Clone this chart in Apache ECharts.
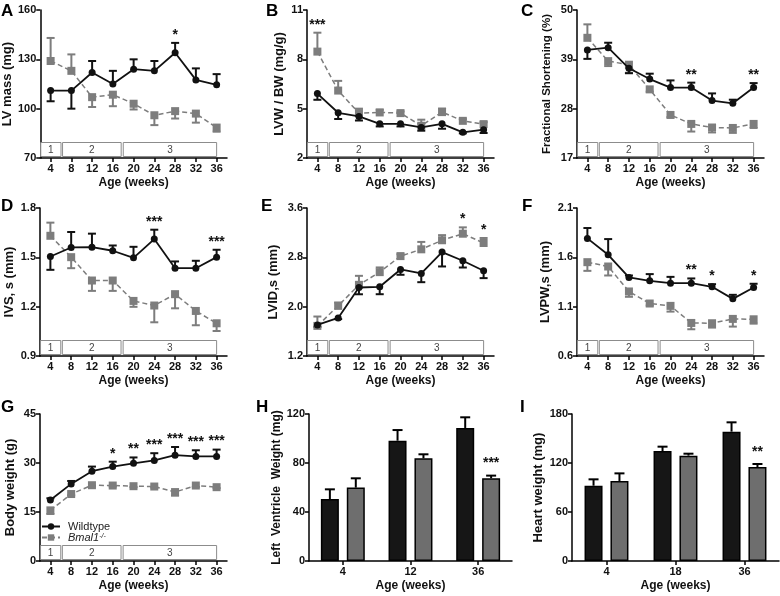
<!DOCTYPE html>
<html>
<head>
<meta charset="utf-8">
<script src="https://cdn.jsdelivr.net/npm/echarts@6/dist/echarts.min.js"></script>
<style>html,body{margin:0;padding:0;background:#fff}#c{width:780px;height:596px}</style>
</head>
<body>
<div id="c"></div>
<script>
// ---------- DATA ----------
const weeks = ['4','8','12','16','20','24','28','32','36'];
const phaseLabels = ['1','2','3'];
const phaseStart = [2.1, 6.3, 18.0];
const phaseEnd = [6.0, 17.6, 36.0];
const seriesNames = ['Wildtype', 'Bmal1-/-'];

// A: LV mass (mg)
const aWT = [111, 111, 122, 115, 124, 123, 134, 117.5, 114.5];
const aWTErr = [-6.5, -11, 7, 8, 6, 6, 6, 7, 6.5];
const aKO = [129, 123, 107, 108.5, 103, 96, 98.5, 97, 88.5];
const aKOErr = [14, 10, -6, -7, -3.5, -6, -4.5, -5.5, -2.5];
const aSig = ['', '', '', '', '', '', '*', '', ''];

// B: LVW / BW (mg/g)
const bWT = [5.92, 4.75, 4.53, 4.08, 4.08, 3.86, 4.08, 3.56, 3.72];
const bWTErr = [-0.38, -0.38, -0.25, -0.16, -0.16, -0.2, -0.3, -0.06, -0.2];
const bKO = [8.47, 6.1, 4.73, 4.77, 4.73, 3.96, 4.79, 4.26, 4.06];
const bKOErr = [1.15, 0.59, 0.27, 0.16, 0.1, 0.37, 0.22, 0.1, 0.12];
const bSig = ['***', '', '', '', '', '', '', '', ''];

// C: Fractional Shortening (%)
const cWT = [41.1, 41.6, 37.0, 34.6, 32.7, 32.7, 29.8, 29.2, 32.7];
const cWTErr = [-2.0, 1.1, -1.1, 1.2, 1.6, 1.1, 1.6, 0.8, 1.0];
const cKO = [43.8, 38.6, 37.8, 32.3, 26.6, 24.6, 23.8, 23.7, 24.6];
const cKOErr = [3.0, -1.1, -1.8, -0.5, -0.5, -1.7, -1.1, -1.1, -0.9];
const cSig = ['', '', '', '', '', '**', '', '', '**'];

// D: IVS, s (mm)
const dWT = [1.505, 1.56, 1.562, 1.54, 1.497, 1.611, 1.434, 1.434, 1.501];
const dWTErr = [-0.081, 0.094, 0.082, 0.032, 0.067, 0.057, 0.041, 0.045, 0.045];
const dKO = [1.631, 1.501, 1.359, 1.359, 1.235, 1.207, 1.276, 1.174, 1.099];
const dKOErr = [0.08, -0.067, -0.063, -0.063, -0.036, -0.102, -0.086, -0.087, -0.047];
const dSig = ['', '', '', '', '', '***', '', '', '***'];

// E: LVID,s (mm)
const eWT = [1.704, 1.818, 2.311, 2.322, 2.603, 2.538, 2.885, 2.744, 2.582];
const eWTErr = [-0.03, -0.02, -0.11, -0.12, -0.086, -0.141, -0.233, -0.109, -0.119];
const eKO = [1.688, 2.013, 2.354, 2.56, 2.82, 2.93, 3.077, 3.183, 3.032];
const eKOErr = [0.152, 0.054, 0.146, 0.076, 0.03, 0.12, 0.083, 0.103, 0.082];
const eSig = ['', '', '', '', '', '', '', '*', '*'];

// F: LVPW,s (mm)
const fWT = [1.792, 1.626, 1.396, 1.362, 1.338, 1.338, 1.301, 1.179, 1.294];
const fWTErr = [0.105, 0.159, 0.02, 0.068, 0.064, 0.048, 0.027, 0.041, 0.038];
const fKO = [1.551, 1.507, 1.254, 1.132, 1.108, 0.935, 0.932, 0.976, 0.972];
const fKOErr = [-0.088, -0.091, -0.054, -0.02, -0.058, -0.064, -0.044, -0.078, -0.044];
const fSig = ['', '', '', '', '', '**', '*', '', '*'];

// G: Body weight (g)
const gWT = [18.7, 23.6, 27.5, 28.9, 29.9, 30.8, 32.4, 32.0, 32.0];
const gWTErr = [0.5, 0.9, 1.4, 1.5, 1.8, 2.2, 2.5, 1.9, 2.1];
const gKO = [15.5, 20.5, 23.2, 23.1, 22.9, 22.8, 21.1, 23.1, 22.6];
const gKOErr = [-1.1, -0.4, -0.4, -0.3, -0.3, -0.3, -1.1, -0.4, -0.3];
const gSig = ['', '', '', '*', '**', '***', '***', '***', '***'];

// H: Left Ventricle Weight (mg)
const hAges = ['4', '12', '36'];
const hWT = [50.6, 98.2, 108.6];
const hWTErr = [7.9, 8.7, 8.7];
const hKO = [59.9, 83.8, 67.5];
const hKOErr = [7.6, 3.3, 2.2];
const hSig = ['', '', '***'];

// I: Heart weight (mg)
const iAges = ['4', '18', '36'];
const iWT = [92.2, 134.7, 158.4];
const iWTErr = [7.8, 5.3, 11.4];
const iKO = [98, 129, 115.1];
const iKOErr = [9.3, 2.4, 3.7];
const iSig = ['', '', '**'];

// ---------- STYLE / LAYOUT ----------
const FONT = 'Liberation Sans, Arial, sans-serif';
const BLACK = '#111111';
const GRAY = '#7d7d7d';
const BAR_W = 18, BAR_GAP = 0.44;

const option = {
  animation: false,
  backgroundColor: '#ffffff',
  title: [], grid: [], xAxis: [], yAxis: [], series: [],
  legend: {
    data: seriesNames,
    left: 41, top: 521, orient: 'vertical', padding: 0,
    itemWidth: 18, itemHeight: 8, itemGap: 0,
    selectedMode: false,
    textStyle: {
      fontFamily: FONT, fontSize: 11, color: '#222', lineHeight: 9, padding: [0, 0, 0, 3],
      rich: {
        i: { fontStyle: 'italic', fontSize: 11, fontFamily: FONT, color: '#222' },
        s: { fontStyle: 'italic', fontSize: 7, fontFamily: FONT, color: '#222', verticalAlign: 'top', padding: [0, 0, 5, 0] }
      }
    },
    formatter: n => n === 'Wildtype' ? n : '{i|Bmal1}{s|-/-}'
  }
};

const axisLineStyle = { show: true, lineStyle: { color: '#000', width: 1.5 } };
const axisTickStyle = { show: true, length: 4, inside: false, lineStyle: { color: '#000', width: 1.5 } };

function addLetter(letter, left, top) {
  option.title.push({ text: letter, left: left, top: top, padding: 0,
    textStyle: { fontFamily: FONT, fontSize: 17, fontWeight: 'bold', color: '#000' } });
}

function errRender(color, offset, cap) {
  return function (params, api) {
    const x = api.value(0), v = api.value(1), e = api.value(2);
    const p0 = api.coord([x, v]);
    const p1 = api.coord([x, e]);
    const cx = p0[0] + offset;
    return { type: 'group', children: [
      { type: 'line', shape: { x1: cx, y1: p0[1], x2: cx, y2: p1[1] }, style: { stroke: color, lineWidth: 2 } },
      { type: 'line', shape: { x1: cx - cap, y1: p1[1], x2: cx + cap, y2: p1[1] }, style: { stroke: color, lineWidth: 2 } }
    ] };
  };
}

function sigRender(texts, offset, lift) {
  return function (params, api) {
    const x = api.value(0), top = api.value(1);
    const p = api.coord([x, top]);
    return { type: 'text', x: p[0] + offset, y: p[1] - lift,
      style: { text: texts[x], fill: '#111', font: 'bold 14px ' + FONT,
        align: 'center', verticalAlign: 'bottom', textAlign: 'center', textVerticalAlign: 'bottom' } };
  };
}

function boxRender(params, api) {
  const cs = params.coordSys;
  const x0 = api.coord([api.value(0), 0])[0];
  const x1 = api.coord([api.value(1), 0])[0];
  const yb = cs.y + cs.height - 1.5, h = 14;
  return { type: 'group', children: [
    { type: 'rect', shape: { x: x0, y: yb - h, width: x1 - x0, height: h },
      style: { fill: '#fff', stroke: '#8c8c8c', lineWidth: 1 } },
    { type: 'text', x: (x0 + x1) / 2, y: yb - h / 2 + 0.5,
      style: { text: phaseLabels[params.dataIndex], fill: '#444', font: '10px ' + FONT,
        align: 'center', verticalAlign: 'middle', textAlign: 'center', textVerticalAlign: 'middle' } }
  ] };
}

function yAxisCfg(gi, name, min, max, interval, dec, nameGap, nameSize) {
  return {
    type: 'value', gridIndex: gi, min: min, max: max, interval: interval,
    name: name, nameLocation: 'middle', nameGap: nameGap, nameRotate: 90,
    nameTextStyle: { fontFamily: FONT, fontSize: nameSize, fontWeight: 'bold', color: BLACK },
    axisLine: axisLineStyle, axisTick: axisTickStyle, splitLine: { show: false },
    axisLabel: { margin: 4, fontFamily: FONT, fontSize: 11, fontWeight: 'bold', color: BLACK,
      formatter: v => (+v).toFixed(dec) }
  };
}

function xCatCfg(gi, cats) {
  return {
    type: 'category', gridIndex: gi, data: cats, boundaryGap: true,
    name: 'Age (weeks)', nameLocation: 'middle', nameGap: 19,
    nameTextStyle: { fontFamily: FONT, fontSize: 12, fontWeight: 'bold', color: BLACK },
    axisLine: axisLineStyle, axisTick: Object.assign({ alignWithLabel: true }, axisTickStyle),
    axisLabel: { margin: 5, fontFamily: FONT, fontSize: 11, fontWeight: 'bold', color: BLACK, interval: 0 },
    splitLine: { show: false }
  };
}

function addLinePanel(p) {
  const gi = option.grid.length;
  option.grid.push(p.grid);
  const xi = option.xAxis.length;
  option.xAxis.push(xCatCfg(gi, weeks));
  option.xAxis.push({ type: 'value', gridIndex: gi, min: 2, max: 38, show: false });
  const yi = option.yAxis.length;
  option.yAxis.push(yAxisCfg(gi, p.yName, p.min, p.max, p.interval, p.dec, p.nameGap, p.nameSize));
  addLetter(p.letter, p.letterPos[0], p.letterPos[1]);

  option.series.push({ type: 'custom', xAxisIndex: xi + 1, yAxisIndex: yi, z: 1, silent: true,
    renderItem: boxRender, encode: { x: [0, 1] },
    data: phaseLabels.map((l, k) => [phaseStart[k], phaseEnd[k]]) });
  option.series.push({ type: 'custom', xAxisIndex: xi, yAxisIndex: yi, z: 2, silent: true,
    renderItem: errRender(GRAY, 0, 4), encode: { x: 0, y: [1, 2] },
    data: p.ko.map((v, k) => [k, v, v + p.koErr[k]]) });
  option.series.push({ type: 'custom', xAxisIndex: xi, yAxisIndex: yi, z: 3, silent: true,
    renderItem: errRender(BLACK, 0, 4), encode: { x: 0, y: [1, 2] },
    data: p.wt.map((v, k) => [k, v, v + p.wtErr[k]]) });
  option.series.push({ type: 'line', name: seriesNames[1], xAxisIndex: xi, yAxisIndex: yi, z: 4,
    data: p.ko, symbol: 'rect', symbolSize: 8, showSymbol: true,
    lineStyle: { color: GRAY, width: 1.5, type: [5, 3] }, itemStyle: { color: GRAY } });
  option.series.push({ type: 'line', name: seriesNames[0], xAxisIndex: xi, yAxisIndex: yi, z: 5,
    data: p.wt, symbol: 'circle', symbolSize: 7, showSymbol: true,
    lineStyle: { color: BLACK, width: 1.8 }, itemStyle: { color: BLACK } });
  const sigData = [];
  p.sig.forEach((s, k) => {
    if (s) {
      const top = Math.max(p.wt[k], p.wt[k] + p.wtErr[k], p.ko[k], p.ko[k] + p.koErr[k]);
      sigData.push([k, top]);
    }
  });
  option.series.push({ type: 'custom', xAxisIndex: xi, yAxisIndex: yi, z: 6, silent: true,
    renderItem: sigRender(p.sig, 0, 1), encode: { x: 0, y: 1 }, data: sigData });
}

function addBarPanel(p) {
  const gi = option.grid.length;
  option.grid.push(p.grid);
  const xi = option.xAxis.length;
  option.xAxis.push(xCatCfg(gi, p.cats));
  const yi = option.yAxis.length;
  option.yAxis.push(yAxisCfg(gi, p.yName, p.min, p.max, p.interval, 0, p.nameGap, p.nameSize));
  addLetter(p.letter, p.letterPos[0], p.letterPos[1]);
  const off = (BAR_W + BAR_W * BAR_GAP) / 2;
  option.series.push({ type: 'bar', name: seriesNames[0], xAxisIndex: xi, yAxisIndex: yi, z: 3,
    data: p.wt, barWidth: BAR_W, barGap: (BAR_GAP * 100) + '%',
    itemStyle: { color: '#161616', borderColor: '#000', borderWidth: 1.5 } });
  option.series.push({ type: 'bar', name: seriesNames[1], xAxisIndex: xi, yAxisIndex: yi, z: 3,
    data: p.ko, barWidth: BAR_W, barGap: (BAR_GAP * 100) + '%',
    itemStyle: { color: '#6e6e6e', borderColor: '#000', borderWidth: 1.5 } });
  option.series.push({ type: 'custom', xAxisIndex: xi, yAxisIndex: yi, z: 2, silent: true,
    renderItem: errRender('#000', -off, 5), encode: { x: 0, y: [1, 2] },
    data: p.wt.map((v, k) => [k, v, v + p.wtErr[k]]) });
  option.series.push({ type: 'custom', xAxisIndex: xi, yAxisIndex: yi, z: 2, silent: true,
    renderItem: errRender('#000', off, 5), encode: { x: 0, y: [1, 2] },
    data: p.ko.map((v, k) => [k, v, v + p.koErr[k]]) });
  const sigData = [];
  p.sig.forEach((s, k) => { if (s) sigData.push([k, p.ko[k] + p.koErr[k]]); });
  option.series.push({ type: 'custom', xAxisIndex: xi, yAxisIndex: yi, z: 6, silent: true,
    renderItem: sigRender(p.sig, off, 5), encode: { x: 0, y: 1 }, data: sigData });
}

addLinePanel({ letter: 'A', letterPos: [1, 3], grid: { left: 40, top: 10, width: 187, height: 148 },
  yName: 'LV mass (mg)', min: 70, max: 160, interval: 30, dec: 0, nameGap: 23, nameSize: 13,
  wt: aWT, wtErr: aWTErr, ko: aKO, koErr: aKOErr, sig: aSig });
addLinePanel({ letter: 'B', letterPos: [266, 3], grid: { left: 307, top: 10, width: 187, height: 148 },
  yName: 'LVW / BW (mg/g)', min: 2, max: 11, interval: 3, dec: 0, nameGap: 21, nameSize: 13,
  wt: bWT, wtErr: bWTErr, ko: bKO, koErr: bKOErr, sig: bSig });
addLinePanel({ letter: 'C', letterPos: [521, 3], grid: { left: 577, top: 10, width: 187, height: 148 },
  yName: 'Fractional Shortening (%)', min: 17, max: 50, interval: 11, dec: 0, nameGap: 24, nameSize: 11.5,
  wt: cWT, wtErr: cWTErr, ko: cKO, koErr: cKOErr, sig: cSig });
addLinePanel({ letter: 'D', letterPos: [1, 198], grid: { left: 40, top: 208, width: 187, height: 148 },
  yName: 'IVS, s (mm)', min: 0.9, max: 1.8, interval: 0.3, dec: 1, nameGap: 24, nameSize: 13,
  wt: dWT, wtErr: dWTErr, ko: dKO, koErr: dKOErr, sig: dSig });
addLinePanel({ letter: 'E', letterPos: [261, 198], grid: { left: 307, top: 208, width: 187, height: 148 },
  yName: 'LVID,s (mm)', min: 1.2, max: 3.6, interval: 0.8, dec: 1, nameGap: 27, nameSize: 13,
  wt: eWT, wtErr: eWTErr, ko: eKO, koErr: eKOErr, sig: eSig });
addLinePanel({ letter: 'F', letterPos: [522, 198], grid: { left: 577, top: 208, width: 187, height: 148 },
  yName: 'LVPW,s (mm)', min: 0.6, max: 2.1, interval: 0.5, dec: 1, nameGap: 25, nameSize: 13,
  wt: fWT, wtErr: fWTErr, ko: fKO, koErr: fKOErr, sig: fSig });
addLinePanel({ letter: 'G', letterPos: [1, 399], grid: { left: 40, top: 414, width: 187, height: 147 },
  yName: 'Body weight (g)', min: 0, max: 45, interval: 15, dec: 0, nameGap: 23, nameSize: 13,
  wt: gWT, wtErr: gWTErr, ko: gKO, koErr: gKOErr, sig: gSig });
addBarPanel({ letter: 'H', letterPos: [256, 399], grid: { left: 309, top: 414, width: 203, height: 147 },
  cats: hAges, yName: 'Left  Ventricle  Weight (mg)', min: 0, max: 120, interval: 40,
  nameGap: 25, nameSize: 12, wt: hWT, wtErr: hWTErr, ko: hKO, koErr: hKOErr, sig: hSig });
addBarPanel({ letter: 'I', letterPos: [520, 399], grid: { left: 572, top: 414, width: 207, height: 147 },
  cats: iAges, yName: 'Heart weight (mg)', min: 0, max: 180, interval: 60,
  nameGap: 27, nameSize: 13, wt: iWT, wtErr: iWTErr, ko: iKO, koErr: iKOErr, sig: iSig });

const chart = echarts.init(document.getElementById('c'), null, { renderer: 'canvas' });
chart.setOption(option);
</script>
</body>
</html>
